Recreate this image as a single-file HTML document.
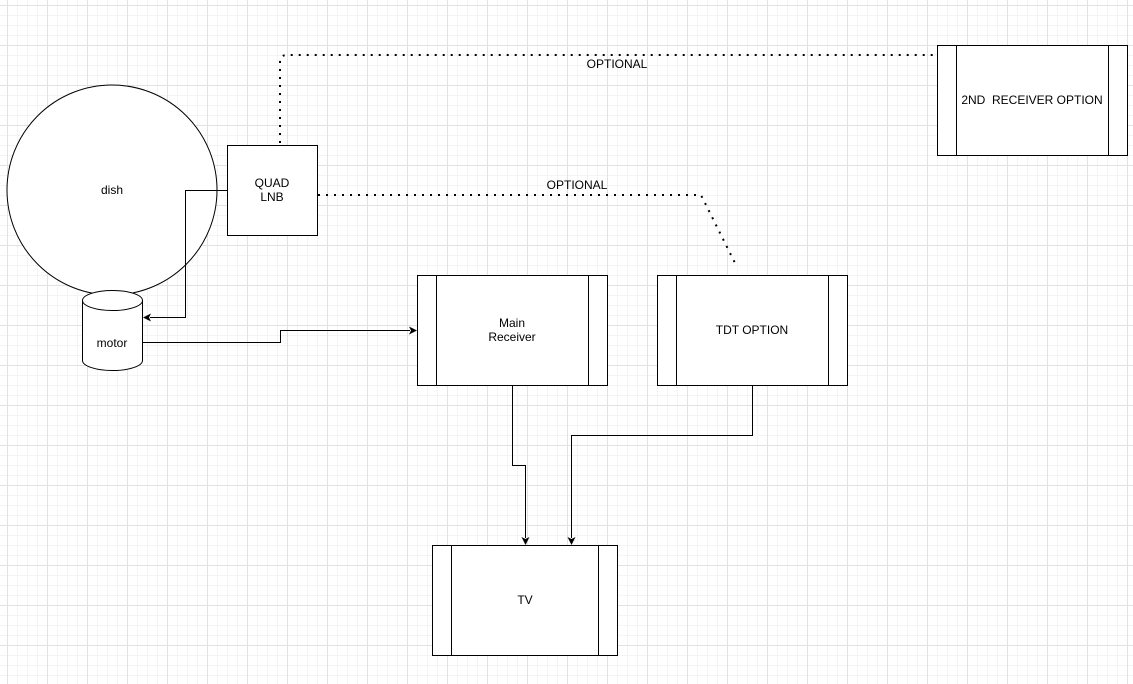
<!DOCTYPE html>
<html><head><meta charset="utf-8"><style>
html,body{margin:0;padding:0;}
body{width:1133px;height:684px;overflow:hidden;background-color:#fff;
background-image:
linear-gradient(#e2e2e2 1px,transparent 1px),
linear-gradient(90deg,#e2e2e2 1px,transparent 1px),
linear-gradient(#f4f4f4 1px,transparent 1px),
linear-gradient(90deg,#f4f4f4 1px,transparent 1px);
background-size:40px 40px,40px 40px,10px 10px,10px 10px;
background-position:0 5px,7px 0,0 5px,7px 0;}
svg{position:absolute;left:0;top:0;}
text{font-family:"Liberation Sans",Arial,sans-serif;font-size:12px;fill:#000;text-anchor:middle;}
</style></head><body>
<svg width="1133" height="684" viewBox="0 0 1133 684">
<!-- dish -->
<circle cx="112" cy="190" r="105" fill="#fff" stroke="#000" stroke-width="1"/>
<text x="112" y="194">dish</text>
<!-- LNB -->
<rect x="227.5" y="145.5" width="90" height="90" fill="#fff" stroke="#000"/>
<text x="272" y="187">QUAD</text>
<text x="272" y="201">LNB</text>
<!-- motor -->
<path d="M82.5,300.5 A30,10 0 0 1 142.5,300.5 L142.5,360.5 A30,10 0 0 1 82.5,360.5 Z" fill="#fff" stroke="#000"/>
<path d="M82.5,300.5 A30,10 0 0 0 142.5,300.5" fill="none" stroke="#000"/>
<text x="112" y="347">motor</text>
<!-- connectors -->
<path d="M227,190.5 H185.5 V317.5 H150" fill="none" stroke="#000"/>
<polygon points="143,317.5 151,313.5 149,317.5 151,321.5" fill="#000"/>
<path d="M142,342.5 H280.5 V330.5 H410" fill="none" stroke="#000"/>
<polygon points="417,330.5 409,326.5 411,330.5 409,334.5" fill="#000"/>
<path d="M512.5,385 V465.5 H525.5 V538" fill="none" stroke="#000"/>
<polygon points="525.5,545 521.5,537 525.5,539 529.5,537" fill="#000"/>
<path d="M752.5,385 V435.5 H571.5 V538" fill="none" stroke="#000"/>
<polygon points="571.5,545 567.5,537 571.5,539 575.5,537" fill="#000"/>
<!-- dotted -->
<path d="M280,143 V62 Q280,55 287,55 H937" fill="none" stroke="#000" stroke-width="2" stroke-dasharray="2 6"/>
<path d="M318,195 H701 L737,267" fill="none" stroke="#000" stroke-width="2" stroke-dasharray="2 6"/>
<text x="617" y="68">OPTIONAL</text>
<text x="577" y="189">OPTIONAL</text>
<!-- Main Receiver -->
<rect x="417.5" y="275.5" width="190" height="110" fill="#fff" stroke="#000"/>
<line x1="436.5" y1="275.5" x2="436.5" y2="385.5" stroke="#000"/>
<line x1="588.5" y1="275.5" x2="588.5" y2="385.5" stroke="#000"/>
<text x="512" y="327">Main</text>
<text x="512" y="341">Receiver</text>
<!-- TDT -->
<rect x="657.5" y="275.5" width="190" height="110" fill="#fff" stroke="#000"/>
<line x1="676.5" y1="275.5" x2="676.5" y2="385.5" stroke="#000"/>
<line x1="828.5" y1="275.5" x2="828.5" y2="385.5" stroke="#000"/>
<text x="752" y="334">TDT OPTION</text>
<!-- 2nd receiver -->
<rect x="937.5" y="45.5" width="190" height="110" fill="#fff" stroke="#000"/>
<line x1="956.5" y1="45.5" x2="956.5" y2="155.5" stroke="#000"/>
<line x1="1108.5" y1="45.5" x2="1108.5" y2="155.5" stroke="#000"/>
<text x="1032" y="104">2ND&#160; RECEIVER OPTION</text>
<!-- TV -->
<rect x="432.5" y="545.5" width="185" height="110" fill="#fff" stroke="#000"/>
<line x1="451.5" y1="545.5" x2="451.5" y2="655.5" stroke="#000"/>
<line x1="598.5" y1="545.5" x2="598.5" y2="655.5" stroke="#000"/>
<text x="525" y="604">TV</text>
</svg>
</body></html>
